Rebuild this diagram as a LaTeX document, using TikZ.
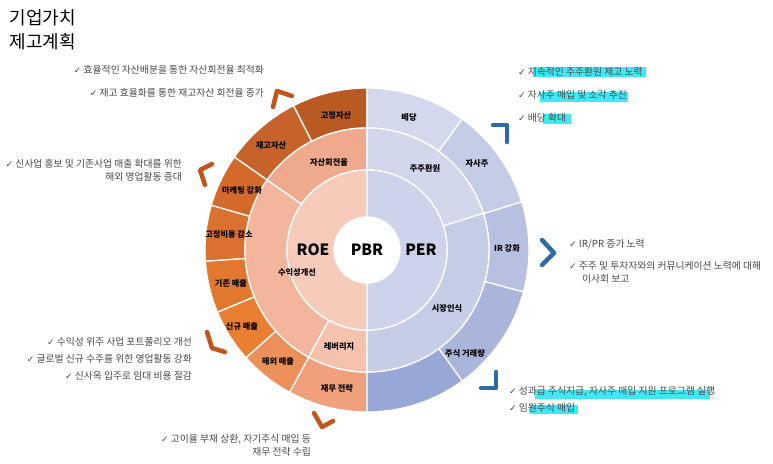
\documentclass[tikz,border=0pt]{standalone}
\usepackage{fontspec}
\setmainfont{Noto Sans CJK KR}
\newfontfamily\symfont{DejaVu Sans}
\usetikzlibrary{positioning}

\definecolor{txtgray}{HTML}{4A4A4A}
\definecolor{hlcyan}{HTML}{3EE8F5}
\definecolor{chevor}{HTML}{C0561B}
\definecolor{chevbl}{HTML}{2E6AA3}
\definecolor{orA}{HTML}{B85A22}
\definecolor{orB}{HTML}{C7622A}
\definecolor{orC}{HTML}{D36A2C}
\definecolor{orD}{HTML}{DB7130}
\definecolor{orE}{HTML}{E2772F}
\definecolor{orF}{HTML}{EB7F31}
\definecolor{orG}{HTML}{EC905A}
\definecolor{orH}{HTML}{F0A07A}
\definecolor{peA}{HTML}{EFA98C}
\definecolor{peB}{HTML}{F3B59C}
\definecolor{peC}{HTML}{F5C2AE}
\definecolor{peD}{HTML}{F6CBBA}
\definecolor{blA}{HTML}{D3D8EC}
\definecolor{blB}{HTML}{C5CCE6}
\definecolor{blC}{HTML}{B7C0E1}
\definecolor{blD}{HTML}{AAB5DC}
\definecolor{blE}{HTML}{98A7D5}
\definecolor{blF}{HTML}{D2D7EC}
\definecolor{blG}{HTML}{C6CDE7}
\definecolor{blH}{HTML}{CDD3EA}

% one wedge of the sunburst: inner r, outer r, start, end, colour
\newcommand\sunpart[5]{\filldraw[fill=#5,draw=white,line width=1.3pt] (#3:#1) arc[start angle=#3,end angle=#4,radius=#1] -- (#4:#2) arc[start angle=#4,end angle=#3,radius=#2] -- cycle;}
\newcommand\chk{{\symfont\small ✓}\ }

\tikzset{
    seglabel/.style={font=\fontsize{8.2}{10}\selectfont\bfseries, text=black},
    bigtag/.style={font=\fontsize{15.5}{17}\selectfont\bfseries, text=black},
    note/.style={font=\fontsize{9.8}{13}\selectfont, text=txtgray, inner sep=0pt},
    chevO/.style={chevor, line width=4.5pt, line cap=round, line join=round},
    chevB/.style={chevbl, line width=4.5pt, line cap=round, line join=round}
}

\begin{document}
\begin{tikzpicture}[x=1pt,y=1pt]
    \useasboundingbox (0,0) rectangle (773,-463);
    \fill[white] (0,0) rectangle (773,-463);

    % title
    \node[anchor=west, font=\fontsize{18}{21}\selectfont] (title1) at (6,-18) {기업가치};
    \node[anchor=west, font=\fontsize{18}{21}\selectfont] (title2) at (6,-42) {제고계획};

    \begin{scope}[shift={(367,-250)}]
        % outer ring, left
        \sunpart{122}{162}{90}{117}{orA}
        \sunpart{122}{162}{117}{145}{orB}
        \sunpart{122}{162}{145}{164}{orC}
        \sunpart{122}{162}{164}{184}{orD}
        \sunpart{122}{162}{184}{202.6}{orE}
        \sunpart{122}{162}{202.6}{221.7}{orF}
        \sunpart{122}{162}{221.7}{241.5}{orG}
        \sunpart{122}{162}{241.5}{270}{orH}
        % outer ring, right
        \sunpart{122}{162}{54}{90}{blA}
        \sunpart{122}{162}{17.3}{54}{blB}
        \sunpart{122}{162}{-15}{17.3}{blC}
        \sunpart{122}{162}{-54}{-15}{blD}
        \sunpart{122}{162}{-90}{-54}{blE}
        % middle ring
        \sunpart{80}{122}{90}{145}{peA}
        \sunpart{80}{122}{145}{241.5}{peB}
        \sunpart{80}{122}{241.5}{270}{peC}
        \sunpart{80}{122}{17.5}{90}{blF}
        \sunpart{80}{122}{-90}{17.5}{blG}
        % inner ring
        \sunpart{33}{80}{90}{270}{peD}
        \sunpart{33}{80}{-90}{90}{blH}
        \fill[white] (0,0) circle (33);

        \node[bigtag] (pbr) at (0,0) {PBR};
        \node[bigtag] (roe) at (-54,0) {ROE};
        \node[bigtag] (per) at (54,0) {PER};

        \node[seglabel] (jasan) at (-38,88) {자산회전율};
        \node[seglabel] (suik) at (-70,-22) {수익성개선};
        \node[seglabel] (lever) at (-28,-96) {레버리지};
        \node[seglabel] (juju) at (58,82) {주주환원};
        \node[seglabel] (sijang) at (80,-58) {시장인식};

        \node[seglabel] (gojeong) at (-31,135) {고정자산};
        \node[seglabel] (jaego) at (-96,105) {재고자산};
        \node[seglabel] (market) at (-125,60) {마케팅 강화};
        \node[seglabel] (fixcost) at (-138,16) {고정비용 감소};
        \node[seglabel] (exist) at (-136,-33) {기존 매출};
        \node[seglabel] (newsale) at (-125,-76) {신규 매출};
        \node[seglabel] (abroad) at (-89,-111) {해외 매출};
        \node[seglabel] (finance) at (-30,-138) {재무 전략};
        \node[seglabel] (divid) at (42,133) {배당};
        \node[seglabel] (treas) at (110,87) {자사주};
        \node[seglabel] (irup) at (140,2) {IR 강화};
        \node[seglabel] (volume) at (98,-103) {주식 거래량};
    \end{scope}

    % chevrons
    \draw[chevO] (273,-107) -- (277,-91) -- (292,-96);
    \draw[chevO] (212,-164) -- (200,-170) -- (205,-185);
    \draw[chevO] (207,-332) -- (212,-348) -- (225,-352);
    \draw[chevO] (314,-413) -- (322,-427) -- (333,-421);
    \draw[chevB] (493,-125) -- (507,-125) -- (507,-142);
    \draw[chevB] (542,-240) -- (554,-253) -- (542,-265);
    \draw[chevB] (496,-372) -- (496,-388) -- (481,-388);

    % highlights
    \fill[hlcyan] (533,-67) rectangle (646,-77);
    \fill[hlcyan] (540,-92) rectangle (628,-102);
    \fill[hlcyan] (543,-114) rectangle (571,-124);
    \fill[hlcyan] (535,-390) rectangle (710,-399);
    \fill[hlcyan] (530,-405) rectangle (578,-414);

    % notes, left
    \node[note, anchor=east] (n1) at (264,-70) {\chk 효율적인 자산배분을 통한 자산회전율 최적화};
    \node[note, anchor=east] (n2) at (264,-93) {\chk 재고 효율화를 통한 재고자산 회전율 증가};
    \node[note, anchor=east, align=right] (n3) at (182,-170) {\chk 신사업 홍보 및 기존사업 매출 확대를 위한\\해외 영업활동 증대};
    \node[note, anchor=east] (n4) at (192,-342) {\chk 수익성 위주 사업 포트폴리오 개선};
    \node[note, anchor=east] (n5) at (192,-359) {\chk 글로벌 신규 수주를 위한 영업활동 강화};
    \node[note, anchor=east] (n6) at (192,-376) {\chk 신사옥 입주로 임대 비용 절감};
    \node[note, anchor=east, align=right] (n7) at (311,-445) {\chk 고이율 부채 상환, 자기주식 매입 등\\재무 전략 수립};
    % notes, right
    \node[note, anchor=west] (n8) at (518,-72) {\chk 지속적인 주주환원 제고 노력};
    \node[note, anchor=west] (n9) at (518,-95) {\chk 자사주 매입 및 소각 추진};
    \node[note, anchor=west] (n10) at (518,-118) {\chk 배당 확대};
    \node[note, anchor=west] (n11) at (569,-244) {\chk IR/PR 증가 노력};
    \node[note, anchor=north west, align=left] (n12) at (569,-261) {\chk 주주 및 투자자와의 커뮤니케이션 노력에 대해\\\hspace*{13pt}이사회 보고};
    \node[note, anchor=west] (n13) at (509,-391) {\chk 성과급 주식지급, 자사주 매입 지원 프로그램 실행};
    \node[note, anchor=west] (n14) at (509,-408) {\chk 임원주식 매입};
\end{tikzpicture}
\end{document}
